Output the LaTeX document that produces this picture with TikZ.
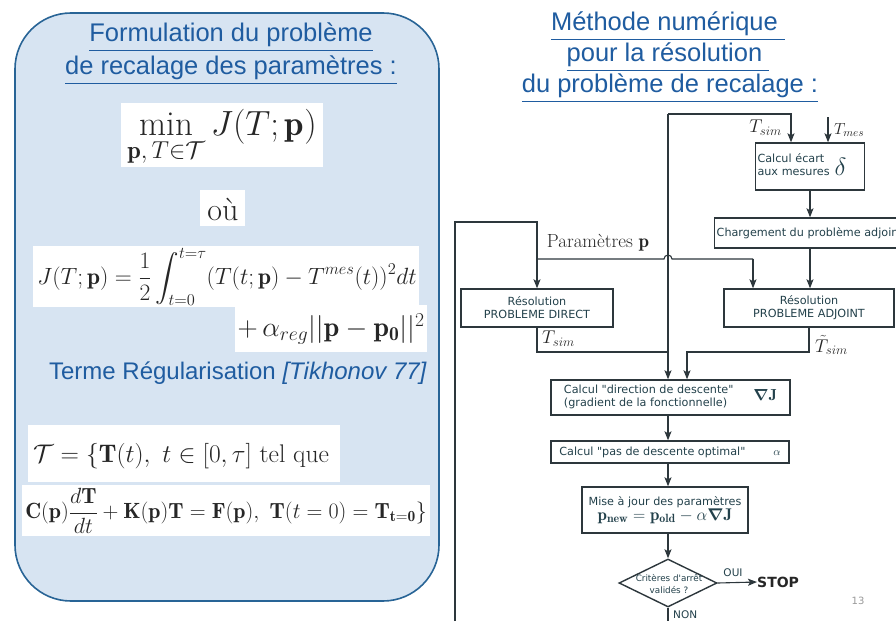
\RequirePackage{fix-cm}
\documentclass[tikz,border=0pt]{standalone}
\usepackage{amsmath,amssymb}
\usepackage{fontspec}
\usetikzlibrary{arrows.meta,shapes.geometric}
\newfontfamily\arialf{Liberation Sans}
\newfontfamily\flowf{DejaVu Sans}
\definecolor{paneltxt}{RGB}{31,92,160}
\definecolor{panelfill}{RGB}{215,228,242}
\definecolor{panelline}{RGB}{40,100,150}
\definecolor{flowline}{RGB}{45,55,60}
\definecolor{flowtxt}{RGB}{35,65,75}
\tikzset{
  panel/.style={draw=panelline, line width=1.6pt, fill=panelfill, rounded corners=56pt},
  whitebox/.style={fill=white, draw=none},
  titletxt/.style={text=paneltxt, font=\arialf\fontsize{25.5}{28}\selectfont, inner sep=0pt},
  fbox/.style={draw=flowline, line width=1.4pt, fill=white, text=flowtxt, font=\flowf\fontsize{11.2}{13}\selectfont, inner sep=2pt},
  arr/.style={draw=flowline, line width=1.1pt, -{Stealth[length=9pt,width=7pt,inset=2pt]}},
  ln/.style={draw=flowline, line width=1.1pt},
  flowlbl/.style={text=flowtxt, font=\flowf\fontsize{10.5}{12}\selectfont, inner sep=1pt},
  mathlbl/.style={text=black!85, inner sep=0pt}
}
\begin{document}
\begin{tikzpicture}[x=1pt,y=-1pt]
\useasboundingbox (0,0) rectangle (896,621);
\fill[white] (0,0) rectangle (896,621);
% ---------------- left panel ----------------
\draw[panel] (15,13) rectangle (439,601);
\node[titletxt] (t1) at (231,37) {\underline{Formulation du problème}};
\node[titletxt] (t2) at (231,70) {\underline{de recalage des paramètres :}};
\fill[whitebox] (121,103) rectangle (323,167);
\node[mathlbl] (minf) at (222,138) {\fontsize{35}{38}\selectfont$\displaystyle\min_{\mathbf{p},\,T\in\mathcal{T}} J(T;\mathbf{p})$};
\fill[whitebox] (200,190) rectangle (245,226);
\node[mathlbl] (ou) at (223,209) {\fontsize{32}{34}\selectfont où};
\fill[whitebox] (33,246) rectangle (419,307);
\fill[whitebox] (235,305) rectangle (427,352);
\node[mathlbl] (jf) at (227,277) {\fontsize{23.5}{26}\selectfont$J(T;\mathbf{p})=\dfrac{1}{2}\displaystyle\int_{t=0}^{t=\tau}(T(t;\mathbf{p})-T^{mes}(t))^2dt$};
\node[mathlbl] (reg) at (331,329) {\fontsize{28}{30}\selectfont$+\,\alpha_{reg}||\mathbf{p}-\mathbf{p_0}||^2$};
\node[text=paneltxt, font=\arialf\fontsize{24}{26}\selectfont, inner sep=0pt] (terme) at (238,373) {Terme Régularisation \textit{[Tikhonov 77]}};
\fill[whitebox] (28,425) rectangle (340,482);
\fill[whitebox] (22,485) rectangle (430,536);
\node[mathlbl, anchor=west] (tset) at (33,456) {\fontsize{25.5}{28}\selectfont$\mathcal{T}=\{\mathbf{T}(t),\ t\in[0,\tau]\ \text{tel que}$};
\node[mathlbl] (ode) at (226,511) {\fontsize{22}{24}\selectfont$\mathbf{C}(\mathbf{p})\dfrac{d\mathbf{T}}{dt}+\mathbf{K}(\mathbf{p})\mathbf{T}=\mathbf{F}(\mathbf{p}),\ \mathbf{T}(t=0)=\mathbf{T_{t=0}}\}$};
% ---------------- right title ----------------
\node[titletxt] (r1) at (668,26) {\underline{Méthode numérique\ }};
\node[titletxt] (r2) at (668,57) {\underline{pour la résolution\ }};
\node[titletxt] (r3) at (670,88) {\underline{du problème de recalage :}};
% ---------------- flowchart ----------------
\begin{scope}
\clip (441,95) rectangle (896,621);
\node[fbox, text width=105pt, align=left, minimum height=47pt] (ecart) at (810,166.5) {\begin{tabular}[b]{@{}l@{}}Calcul écart\\aux mesures\end{tabular}\hspace{5pt}{\fontsize{25}{25}\selectfont$\delta$}};
\node[fbox, anchor=west, minimum height=30pt] (charg) at (714,233) {Chargement du problème adjoint};
\node[fbox, minimum width=152pt, minimum height=38pt, align=center] (direct) at (537,308) {Résolution\\PROBLEME DIRECT};
\node[fbox, minimum width=170pt, minimum height=38pt, align=center] (adjoint) at (809,308) {Résolution\\PROBLEME ADJOINT};
\node[fbox, minimum width=239pt, minimum height=35pt] (grad) at (670.5,397.5) {\begin{tabular}{@{}l@{}}Calcul "direction de descente"\\(gradient de la fonctionnelle)\end{tabular}\hspace{20pt}{\fontsize{16}{16}\selectfont$\boldsymbol{\nabla}\mathbf{J}$}};
\node[fbox, minimum width=238pt, minimum height=22pt] (pas) at (670,452) {Calcul "pas de descente optimal"\hspace{28pt}$\alpha$};
\node[fbox, minimum width=166pt, minimum height=46pt, align=center, inner sep=1pt] (mise) at (665,510) {Mise à jour des paramètres\\[0pt]{\fontsize{17}{17}\selectfont$\mathbf{p_{new}}=\mathbf{p_{old}}-\alpha\boldsymbol{\nabla}\mathbf{J}$}};
\node[fbox, diamond, minimum width=98pt, minimum height=48pt, inner sep=0pt] (crit) at (668,583) {};
\node[flowlbl, align=center, font=\flowf\fontsize{8.8}{12.5}\selectfont, inner sep=0pt] (crittxt) at (669,584) {Critères d'arrêt\\validés ?};
\node[anchor=west, inner sep=0pt, text=black!85, font=\flowf\bfseries\fontsize{14}{16}\selectfont] (stop) at (757,582) {STOP};
\node[flowlbl] (oui) at (733,573) {OUI};
\node[flowlbl, anchor=west] (non) at (672,615) {NON};
\node[text=black!40, font=\flowf\fontsize{10}{12}\selectfont, inner sep=0pt] (pnum) at (858,601) {13};
\node[mathlbl] (params) at (598,243) {\fontsize{19}{21}\selectfont Paramètres $\mathbf{p}$};
\node[mathlbl, anchor=east] (tsim1) at (782,128) {\fontsize{18.5}{20}\selectfont$T_{sim}$};
\node[mathlbl, anchor=west] (tmes) at (834,130) {\fontsize{16}{18}\selectfont$T_{mes}$};
\node[mathlbl, anchor=west] (tsim2) at (542,339) {\fontsize{18.5}{20}\selectfont$T_{sim}$};
\node[mathlbl, anchor=west] (tsim3) at (815,345) {\fontsize{18.5}{20}\selectfont$\tilde{T}_{sim}$};
% coordinates
\coordinate (lb) at (455,621);
\coordinate (lt) at (455,222);
\coordinate (vtop) at (668,114);
\coordinate (ecin) at (791,114);
\coordinate (mesin) at (828,117);
\coordinate (bj) at (537,259);
\coordinate (hopl) at (664,259);
\coordinate (adin) at (753,259);
\coordinate (dj) at (668,352);
\coordinate (aj) at (687,352);
\coordinate (nb) at (668,621);
% connectors
\draw[arr] (lb) -- (lt) -| (direct.north);
\draw[ln] (bj) -- (hopl) arc[start angle=180, end angle=0, radius=4pt] -- (adin);
\draw[arr] (adin) -- (adin |- adjoint.north);
\draw[arr] (vtop) -- (vtop |- grad.north);
\draw[arr] (vtop) -- (ecin) -- (ecin |- ecart.north);
\draw[arr] (mesin) -- (mesin |- ecart.north);
\draw[arr] (ecart.south) -- (ecart.south |- charg.north);
\draw[arr] (ecart.south |- charg.south) -- (ecart.south |- adjoint.north);
\draw[ln] (direct.south) |- (dj);
\draw[arr] (adjoint.south) |- (aj) -- (aj |- grad.north);
\draw[arr] (grad.south -| vtop) -- (pas.north -| vtop);
\draw[arr] (pas.south -| vtop) -- (mise.north -| vtop);
\draw[arr] (mise.south -| vtop) -- (crit.north);
\draw[arr] (crit.east) -- (stop.west);
\draw[ln] (crit.south) -- (nb);
\end{scope}
\end{tikzpicture}
\end{document}
